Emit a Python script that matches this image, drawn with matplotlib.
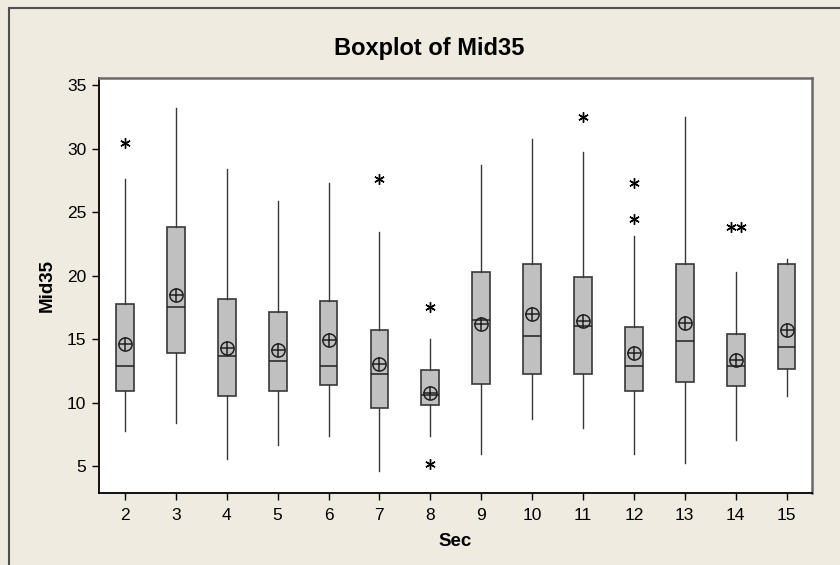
import numpy as np
import matplotlib
matplotlib.use("Agg")
import matplotlib.pyplot as plt
from matplotlib.patches import Rectangle

plt.rcParams['font.family'] = ['Liberation Sans', 'DejaVu Sans']

sec = [2, 3, 4, 5, 6, 7, 8, 9, 10, 11, 12, 13, 14, 15]
whislo = [7.76, 8.41, 5.60, 6.65, 7.39, 4.63, 7.39, 6.00, 8.75, 8.02, 6.00, 5.26, 7.05, 10.51]
q1 = [10.91, 13.95, 10.54, 10.91, 11.38, 9.59, 9.80, 11.51, 12.30, 12.30, 10.91, 11.64, 11.30, 12.66]
median = [12.93, 17.55, 13.69, 13.29, 12.93, 12.30, 10.59, 16.50, 15.24, 16.05, 12.93, 14.87, 12.93, 14.40]
q3 = [17.81, 23.84, 18.17, 17.18, 18.02, 15.71, 12.56, 20.30, 20.96, 19.91, 15.97, 20.96, 15.45, 20.96]
whishi = [27.65, 33.24, 28.39, 25.87, 27.34, 23.45, 15.05, 28.70, 30.75, 29.75, 23.11, 32.50, 20.33, 21.35]
mean = [14.66, 18.52, 14.35, 14.19, 14.92, 13.08, 10.77, 16.23, 17.02, 16.44, 13.92, 16.31, 13.40, 15.76]
outliers = [[30.46], [], [], [], [], [27.60], [17.55, 5.21], [], [], [32.50],
            [27.31, 24.45], [], [23.84, 23.84], []]

bg = '#efebe1'
fig = plt.figure(figsize=(8.4, 5.65), dpi=100, facecolor=bg)
ax = fig.add_axes([99/840, 1 - 493/565, (812 - 99)/840, (493 - 78)/565])
ax.set_facecolor('white')

# outer frame of the graph window
fig.patches.append(Rectangle((9/840, -0.05), 1.0, 1.05 - 8/565, transform=fig.transFigure,
                             fill=False, edgecolor='#505050', linewidth=1.5))

stats = []
for i in range(len(sec)):
    stats.append({'med': median[i], 'q1': q1[i], 'q3': q3[i],
                  'whislo': whislo[i], 'whishi': whishi[i], 'fliers': []})

ax.bxp(stats, positions=sec, widths=0.35, patch_artist=True, showfliers=False,
       showcaps=False,
       boxprops=dict(facecolor='#c0c0c0', edgecolor='#383838', linewidth=1.2),
       whiskerprops=dict(color='#383838', linewidth=1.0),
       medianprops=dict(color='#202020', linewidth=1.1))

# mean symbol: circle with cross
ax.plot(sec, mean, linestyle='none', marker='o', markersize=9.5,
        markerfacecolor='none', markeredgecolor='#202020', markeredgewidth=1.1, zorder=5)
ax.plot(sec, mean, linestyle='none', marker='+', markersize=9.5,
        markeredgecolor='#202020', markeredgewidth=1.1, zorder=5)

# outliers, ties drawn side by side
for x, vals in zip(sec, outliers):
    for v in set(vals):
        n = vals.count(v)
        xs = x + (np.arange(n) - (n - 1) / 2) * 0.2
        ax.plot(xs, [v] * n, linestyle='none', marker=(6, 2, 0), markersize=7.5,
                markeredgecolor='black', markeredgewidth=1.0, zorder=5)

ax.set_xlim(1.49, 15.5)
ax.set_ylim(2.9, 35.57)
ax.set_xticks(sec)
ax.set_xticklabels([str(s) for s in sec])
ax.set_yticks([5, 10, 15, 20, 25, 30, 35])
ax.tick_params(axis='both', direction='out', length=5, width=1, labelsize=12.5,
               colors='black')
ax.tick_params(axis='x', pad=6)
ax.tick_params(axis='y', pad=4)

for s in ['left', 'bottom']:
    ax.spines[s].set_color('black')
    ax.spines[s].set_linewidth(1.3)
for s in ['top', 'right']:
    ax.spines[s].set_color('#6a6a6a')
    ax.spines[s].set_linewidth(1.8)

fig.text(429/840, 1 - 49/565, 'Boxplot of Mid35', ha='center', va='center',
         fontsize=17, fontweight='bold')
ax.set_xlabel('Sec', fontsize=13.5, fontweight='bold', labelpad=7)
ax.set_ylabel('Mid35', fontsize=13.5, fontweight='bold', labelpad=8)

fig.savefig('out.png', dpi=100, facecolor=bg)
